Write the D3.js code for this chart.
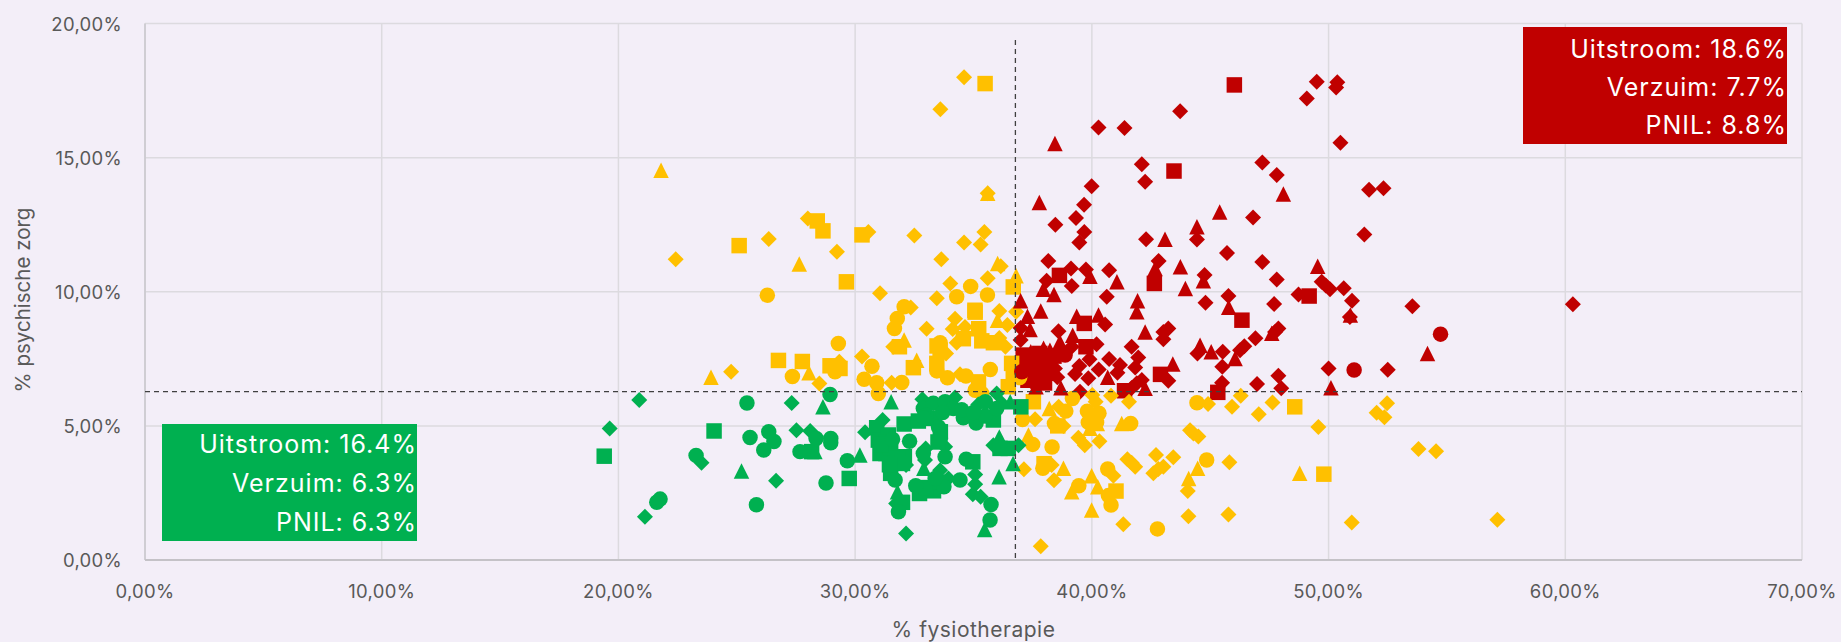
<!DOCTYPE html>
<html><head><meta charset="utf-8">
<script src="https://cdn.jsdelivr.net/npm/d3@7/dist/d3.min.js"></script>
<style>html,body{margin:0;padding:0;background:#F3EEF8;overflow:hidden}svg{display:block}text{font-family:Inter,"Noto Sans",sans-serif}</style>
</head><body><svg id="c" width="1841" height="642"></svg>
<script>
const redDiamond=[[49.5,17.83],[50.37,17.81],[50.32,17.61],[49.08,17.2],[50.5,15.55],[40.28,16.12],[41.38,16.1],[43.73,16.73],[42.11,14.75],[42.25,14.1],[47.2,14.82],[47.81,14.35],[51.71,13.8],[52.32,13.86],[51.51,12.13],[39.99,13.93],[39.67,13.24],[39.33,12.75],[38.46,12.5],[39.68,12.23],[39.47,11.84],[42.29,11.96],[44.44,11.95],[46.81,12.77],[45.71,11.44],[47.2,11.11],[47.81,10.46],[38.16,11.15],[39.12,10.87],[39.75,10.83],[40.73,10.8],[42.82,11.15],[44.76,10.62],[38.09,10.41],[39.15,10.21],[40.63,9.81],[44.8,9.59],[45.77,9.84],[47.7,9.54],[48.73,9.9],[49.71,10.37],[49.88,10.23],[50.06,10.09],[50.64,10.13],[50.99,9.66],[53.54,9.46],[60.32,9.53],[50.9,9.06],[50,7.14],[52.5,7.09],[40.56,8.78],[36.99,8.65],[36.99,8.2],[38.59,8.53],[39.15,7.95],[40.2,8.04],[43.23,8.63],[43.02,8.5],[43.02,8.23],[41.68,7.95],[40.73,7.49],[39.9,7.48],[39.47,7.23],[39.29,6.93],[39.85,6.78],[40.29,7.1],[41.19,7.27],[41.08,6.98],[41.96,7.55],[41.83,7.18],[42.11,6.71],[41.68,6.41],[41.9,6.59],[43.23,6.68],[39.5,6.27],[44.46,7.7],[45.53,7.76],[46.91,8.27],[46.44,7.97],[46.26,7.82],[47.88,8.63],[47.74,8.5],[45.51,7.2],[45.5,6.61],[46.98,6.56],[47.88,6.87],[48,6.4],[38.44,7.14],[38.54,6.81],[37.46,6.96],[38.23,7.57],[37.46,6.64]];
const redSquare=[[46.02,17.71],[43.47,14.5],[38.63,10.61],[42.64,10.31],[49.18,9.84],[39.68,8.82],[39.75,7.95],[41.38,6.31],[42.9,6.92],[45.32,6.25],[46.34,8.94],[37.1,7.64],[37.53,7.27],[38.09,7.45],[37.1,7.02],[38.09,6.96],[37.81,7.2],[37.4,7.45],[37.9,7.3],[38.2,7.1],[37.7,6.9],[37.3,6.7],[38.4,7.6],[37.8,7.7],[38,6.6],[37.2,7.3],[37.6,7.6]];
const redTriangle=[[38.44,15.53],[37.78,13.33],[48.09,13.64],[45.4,12.97],[44.44,12.42],[43.09,11.96],[42.67,10.87],[43.74,10.93],[49.54,10.95],[39.92,10.58],[41.06,10.37],[44.71,10.41],[37.95,10.09],[38.4,9.9],[43.95,10.12],[41.93,9.66],[36.99,9.66],[41.9,9.25],[37.84,9.28],[37.28,9.09],[39.36,9.09],[40.28,9.13],[37.39,8.59],[39.19,8.38],[38.65,8.13],[42.25,8.5],[40.67,6.81],[42.25,6.4],[43.42,7.31],[37.64,6.46],[38.69,6.42],[44.57,8.01],[45.04,7.76],[46.05,7.51],[47.6,8.45],[45.78,9.42],[54.18,7.7],[50.1,6.42],[50.92,9.13],[37.42,7.76],[37.96,7.89],[38.23,7.82]];
const redCircle=[[38.87,7.64],[54.73,8.42],[51.08,7.08],[37.04,7.02]];

const yellowDiamond=[[34.6,18],[33.6,16.8],[35.6,13.67],[28,12.73],[30.56,12.23],[32.5,12.1],[35.46,12.23],[34.6,11.84],[35.3,11.76],[33.64,11.21],[26.35,11.97],[29.23,11.49],[22.42,11.21],[36.15,10.95],[34.02,10.31],[35.6,10.5],[31.05,9.94],[33.45,9.76],[32.35,9.41],[33.02,8.62],[34.22,8.99],[36.09,9.28],[36.8,9.25],[36.43,8.76],[34.64,8.69],[34.12,8.61],[34.29,8.1],[36.09,8.28],[36.35,7.95],[33.84,7.7],[34.43,6.92],[28.49,6.58],[29.33,7.39],[30.29,7.59],[31.54,6.61],[31.61,7.95],[24.76,7.02],[37.6,5.25],[38.6,5.71],[40.02,6.15],[40.16,5.9],[40.81,6.12],[41.57,5.9],[38.8,5],[39.43,4.56],[39.7,4.28],[40.32,4.43],[37.13,3.38],[38.3,3.54],[38.4,2.97],[40.91,3.14],[41.5,3.76],[41.68,3.63],[41.83,3.48],[42.71,3.91],[43.44,3.83],[43.02,3.48],[42.81,3.39],[42.6,3.23],[41.33,1.33],[44.08,1.63],[45.77,1.7],[37.84,0.51],[44.05,2.57],[45.81,3.64],[44.15,4.84],[44.29,4.72],[44.5,4.6],[44.91,5.82],[45.92,5.71],[46.29,6.12],[47.05,5.43],[47.63,5.87],[49.57,4.96],[52.47,5.84],[52.03,5.49],[52.36,5.32],[53.8,4.14],[54.54,4.05],[50.98,1.4],[57.13,1.5]];
const yellowSquare=[[35.49,17.76],[28.4,12.64],[28.64,12.27],[30.29,12.12],[25.1,11.72],[29.63,10.37],[35.06,9.31],[36.68,10.18],[35.07,9.24],[35.22,8.62],[34.57,8.25],[35.35,8.17],[35.84,8.1],[33.46,7.98],[33.59,7.82],[33.45,7.33],[35.21,6.64],[36.61,7.33],[36.68,6.96],[36.47,6.46],[26.76,7.44],[27.77,7.4],[28.94,7.24],[29.36,7.14],[31.87,7.95],[32.46,7.17],[37.53,5.9],[38.56,5],[37.98,3.59],[41.02,2.57],[48.57,5.71],[49.8,3.2]];
const yellowTriangle=[[21.8,14.53],[35.6,13.67],[27.64,11.03],[36.02,11.05],[36.8,10.6],[36.01,8.94],[28.05,6.98],[32.07,8.2],[32.6,7.45],[23.91,6.81],[38.2,5.65],[40.23,5.09],[39.92,4.91],[41.26,5.09],[37.32,4.66],[38.8,3.42],[39.15,2.54],[39.99,3.14],[40.25,2.73],[39.99,1.86],[44.09,3.04],[44.47,3.42],[48.78,3.23]];
const yellowCircle=[[26.29,9.87],[34.88,10.2],[34.29,9.81],[35.59,9.88],[32.07,9.44],[31.78,9],[31.66,8.63],[33.59,8.1],[33.45,7.05],[33.9,6.79],[34.68,6.86],[35.71,7.1],[35.07,6.33],[35.35,6.21],[29.29,8.07],[27.35,6.84],[29.15,7.02],[30.71,7.22],[30.38,6.74],[30.91,6.61],[30.98,6.21],[31.97,6.62],[37.07,5.24],[38.9,5.55],[39.18,6.02],[39.81,5.55],[40.3,5.47],[39.85,5.13],[40.2,5.13],[38.42,5.09],[41.64,5.09],[37.5,4.31],[38.32,4.21],[37.93,3.42],[39.45,2.77],[40.7,2.4],[40.81,2.05],[40.67,3.39],[42.77,1.16],[44.85,3.73],[44.44,5.86],[36.95,6.8]];

const greenDiamond=[[20.88,5.96],[19.63,4.9],[23.51,3.63],[26.66,2.95],[21.12,1.61],[27.32,5.85],[27.52,4.84],[28.1,4.81],[32.84,5.99],[34.22,6.06],[35.98,6.21],[35.2,5.8],[36.19,5.84],[31.16,5.22],[30.42,4.76],[33.8,4.22],[32.98,4.16],[32.95,3.73],[31.2,4.1],[32.15,3.54],[31.73,2.11],[32.15,0.99],[33.59,3.35],[33.94,3.04],[35.07,3.19],[35.07,2.82],[34.97,2.45],[35.3,2.36],[35.84,4.28],[36.9,4.28]];
const greenSquare=[[19.4,3.87],[24.04,4.81],[28.16,4.04],[29.75,3.04],[37,5.71],[35.84,5.22],[32.07,5.07],[32.67,5.18],[33.3,5.28],[30.91,4.93],[30.98,4.47],[31.4,4.66],[33.6,4.78],[33.5,4.4],[32.08,3.85],[31.3,3.97],[31.05,3.97],[31.5,3.23],[32,2.15],[32.72,2.48],[33.31,2.58],[34.97,3.66],[36.12,4.16],[36.47,4.16],[31.3,4.4],[31.5,4.2],[31.8,3.8],[31.1,4.3],[33,2.7],[33.6,2.9],[32,3.6],[31.45,3.55]];
const greenTriangle=[[25.2,3.32],[28.64,5.71],[28.3,4.04],[31.52,5.9],[36.55,5.9],[32.9,3.42],[31.79,2.54],[35.47,1.14],[36.08,3.1],[36.67,3.6],[36.09,4.59],[30.2,3.91]];
const greenCircle=[[25.43,5.85],[23.28,3.9],[21.76,2.27],[21.62,2.15],[25.83,2.06],[25.56,4.57],[26.35,4.78],[26.57,4.42],[26.14,4.1],[28.94,6.17],[27.67,4.04],[28.35,4.53],[28.97,4.53],[28.97,4.37],[28.77,2.87],[29.67,3.7],[32.88,5.65],[33.3,5.84],[33.8,5.9],[34.15,5.65],[34.57,5.3],[35.11,5.11],[35.49,5.37],[35.98,5.65],[31.58,4.5],[32.3,4.43],[33.8,3.85],[32.88,3.97],[31.69,2.98],[31.83,1.8],[32.56,2.77],[33.75,2.73],[33.38,3.04],[34.43,2.98],[34.69,3.76],[35.74,2.07],[35.7,1.49],[33.52,4.96],[33.6,4.53],[33,5.4],[33.7,5.5],[34.5,5.6],[35.5,5.9],[35,5.5],[32.9,5.3]];

const xTicks=[0,10,20,30,40,50,60,70];
const yTicks=[0,5,10,15,20];
const refX=36.77, refY=6.28;
const redBox=["Uitstroom: 18.6%","Verzuim: 7.7%","PNIL: 8.8%"];
const greenBox=["Uitstroom: 16.4%","Verzuim: 6.3%","PNIL: 6.3%"];
const RED="#C00000",YEL="#FFC000",GRN="#00B050";

const x=d3.scaleLinear().domain([0,70]).range([145,1802]);
const y=d3.scaleLinear().domain([0,20]).range([560,23.5]);
const fmt=v=>v.toFixed(2).replace(".",",")+"%";
const svg=d3.select("#c");
svg.append("g").selectAll("line").data(xTicks).join("line").attr("x1",d=>x(d)).attr("x2",d=>x(d)).attr("y1",y(20)).attr("y2",y(0)).attr("stroke","#DCDADF").attr("stroke-width",1.5);
svg.append("g").selectAll("line").data(yTicks).join("line").attr("x1",x(0)).attr("x2",x(70)).attr("y1",d=>y(d)).attr("y2",d=>y(d)).attr("stroke","#DCDADF").attr("stroke-width",1.5);
svg.append("line").attr("x1",x(0)).attr("x2",x(0)).attr("y1",y(20)).attr("y2",y(0)).attr("stroke","#C9C7CC").attr("stroke-width",1.5);
svg.append("line").attr("x1",x(0)).attr("x2",x(70)).attr("y1",y(0)).attr("y2",y(0)).attr("stroke","#C4C2C7").attr("stroke-width",2);
const tc="#595959";
svg.append("g").selectAll("text").data(xTicks).join("text").attr("x",d=>x(d)).attr("y",598).attr("text-anchor","middle").attr("fill",tc).attr("font-size",18.5).attr("letter-spacing",0.3).text(fmt);
svg.append("g").selectAll("text").data(yTicks).join("text").attr("x",122).attr("y",d=>y(d)+7).attr("text-anchor","end").attr("fill",tc).attr("font-size",18.5).attr("letter-spacing",0.3).text(fmt);
svg.append("text").attr("x",973.5).attr("y",636.5).attr("text-anchor","middle").attr("fill",tc).attr("font-size",21).attr("letter-spacing",0.5).text("% fysiotherapie");
svg.append("text").attr("transform","translate(30,300) rotate(-90)").attr("text-anchor","middle").attr("fill",tc).attr("font-size",20.5).text("% psychische zorg");
const tri={draw(c,s){const r=Math.sqrt(s)/2;c.moveTo(0,-r);c.lineTo(r,r);c.lineTo(-r,r);c.closePath();}};
const dia={draw(c,s){const r=Math.sqrt(s)/2;c.moveTo(0,-r);c.lineTo(r,0);c.lineTo(0,r);c.lineTo(-r,0);c.closePath();}};
const sq={draw(c,s){const r=Math.sqrt(s)/2;c.rect(-r,-r,2*r,2*r);}};
const ci={draw(c,s){const r=Math.sqrt(s)/2;c.moveTo(r,0);c.arc(0,0,r,0,2*Math.PI);}};
const layers=[[redDiamond,dia,RED,256],[redSquare,sq,RED,240],
[yellowDiamond,dia,YEL,256],[yellowSquare,sq,YEL,240],[yellowTriangle,tri,YEL,240],[yellowCircle,ci,YEL,240],
[redTriangle,tri,RED,240],[redCircle,ci,RED,240],
[greenDiamond,dia,GRN,256],[greenSquare,sq,GRN,240],[greenTriangle,tri,GRN,240],[greenCircle,ci,GRN,240]];
layers.forEach(([data,type,col,size])=>{
 svg.append("g").selectAll("path").data(data).join("path")
  .attr("d",d3.symbol().type(type).size(size))
  .attr("transform",d=>`translate(${x(d[0])},${y(d[1])})`).attr("fill",col);
});
svg.append("line").attr("x1",x(refX)).attr("x2",x(refX)).attr("y1",40).attr("y2",y(0)).attr("stroke","#404040").attr("stroke-width",1.3).attr("stroke-dasharray","5 4");
svg.append("line").attr("x1",x(0)).attr("x2",x(70)).attr("y1",y(refY)).attr("y2",y(refY)).attr("stroke","#404040").attr("stroke-width",1.3).attr("stroke-dasharray","5 4");
function box(left,top,right,bottom,col,lines,base,step){
 svg.append("rect").attr("x",left).attr("y",top).attr("width",right-left).attr("height",bottom-top).attr("fill",col);
 svg.append("g").selectAll("text").data(lines).join("text").attr("x",right).attr("y",(d,i)=>base+i*step).attr("text-anchor","end").attr("fill","#fff").attr("font-size",25).attr("letter-spacing",1).text(d=>d);
}
box(1523,27,1787,144,RED,redBox,57.7,38.2);
box(162,424,417,541,GRN,greenBox,453.3,38.9);
</script></body></html>
